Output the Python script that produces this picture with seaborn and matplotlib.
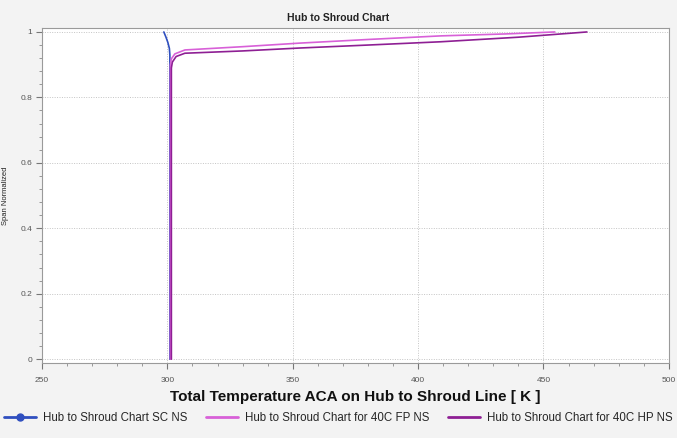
import numpy as np
import pandas as pd
import matplotlib
matplotlib.use("Agg")
import matplotlib.pyplot as plt
from matplotlib.lines import Line2D
from matplotlib.ticker import MultipleLocator
import seaborn as sns

# Hub-to-shroud profiles: total temperature [K] vs normalized span
sc_temp = [301.0, 301.0, 300.8, 300.2, 299.4, 298.6]
sc_span = [0.0, 0.930, 0.950, 0.968, 0.985, 1.0]

fp_temp = [301.2, 301.2, 301.6, 303.0, 307.0, 330.0, 353.0, 380.0, 409.0, 435.0, 454.5]
fp_span = [0.0, 0.900, 0.918, 0.933, 0.945, 0.955, 0.966, 0.977, 0.988, 0.994, 1.0]

hp_temp = [301.6, 301.6, 302.0, 303.5, 307.0, 330.0, 353.0, 380.0, 409.0, 440.0, 467.3]
hp_span = [0.0, 0.890, 0.908, 0.925, 0.935, 0.942, 0.951, 0.960, 0.970, 0.984, 1.0]

series_names = ["Hub to Shroud Chart SC NS",
                "Hub to Shroud Chart for 40C FP NS",
                "Hub to Shroud Chart for 40C HP NS"]
series_colors = ["#2f4fbf", "#d860d8", "#8e1f94"]

frames = []
for name, t, s in zip(series_names, [sc_temp, fp_temp, hp_temp], [sc_span, fp_span, hp_span]):
    frames.append(pd.DataFrame({"temp": t, "span": s, "series": name}))
df = pd.concat(frames, ignore_index=True)

sns.set_theme(style="white")
plt.rcParams["font.family"] = ["Liberation Sans", "DejaVu Sans"]

fig = plt.figure(figsize=(6.77, 4.38), dpi=100, facecolor="#f3f3f3")
ax = fig.add_axes([0.062, 0.171, 0.926, 0.765])
ax.set_facecolor("white")

sns.lineplot(data=df, x="temp", y="span", hue="series", palette=series_colors,
             hue_order=series_names, sort=False, estimator=None, units="series",
             linewidth=1.2, legend=False, ax=ax)

ax.set_xlim(250, 500)
ax.set_ylim(-0.012, 1.012)
ax.xaxis.set_major_locator(MultipleLocator(50))
ax.xaxis.set_minor_locator(MultipleLocator(10))
ax.yaxis.set_minor_locator(MultipleLocator(0.04))
ax.set_yticks([0, 0.2, 0.4, 0.6, 0.8, 1.0])
ax.set_yticklabels(["0", "0.2", "0.4", "0.6", "0.8", "1"])
ax.tick_params(axis="both", which="major", length=4, width=0.8, color="#777777",
               labelsize=6, labelcolor="#555555", direction="out", pad=3,
               bottom=True, left=True)
ax.tick_params(axis="x", which="major", pad=6)
ax.tick_params(axis="both", which="minor", length=2, width=0.6, color="#888888",
               direction="out", bottom=True, left=True)

ax.grid(True, which="major", color="#c4c4c4", linestyle=(0, (1, 1.5)), linewidth=0.7)
for side in ["left", "bottom", "top", "right"]:
    ax.spines[side].set_visible(True)
    ax.spines[side].set_color("#9a9a9a")
    ax.spines[side].set_linewidth(0.8)

ax.set_xlabel("Total Temperature ACA on Hub to Shroud Line [ K ]",
              fontsize=11, fontweight="bold", color="#111111", labelpad=4)
ax.set_ylabel("Span Normalized", fontsize=5.5, color="#222222", labelpad=8)

fig.text(0.5, 0.960, "Hub to Shroud Chart", ha="center", va="center",
         fontsize=7.5, fontweight="bold", color="#222222")

handles = [
    Line2D([], [], color=series_colors[0], lw=2, marker="o", markersize=5),
    Line2D([], [], color=series_colors[1], lw=2),
    Line2D([], [], color=series_colors[2], lw=2),
]
fig.legend(handles, series_names, loc="center", bbox_to_anchor=(0.5, 0.045),
           ncol=3, frameon=False, fontsize=8.3, handlelength=2.8,
           columnspacing=1.6, handletextpad=0.6, borderaxespad=0, borderpad=0.2)

fig.savefig("out.png", dpi=100, facecolor=fig.get_facecolor())
